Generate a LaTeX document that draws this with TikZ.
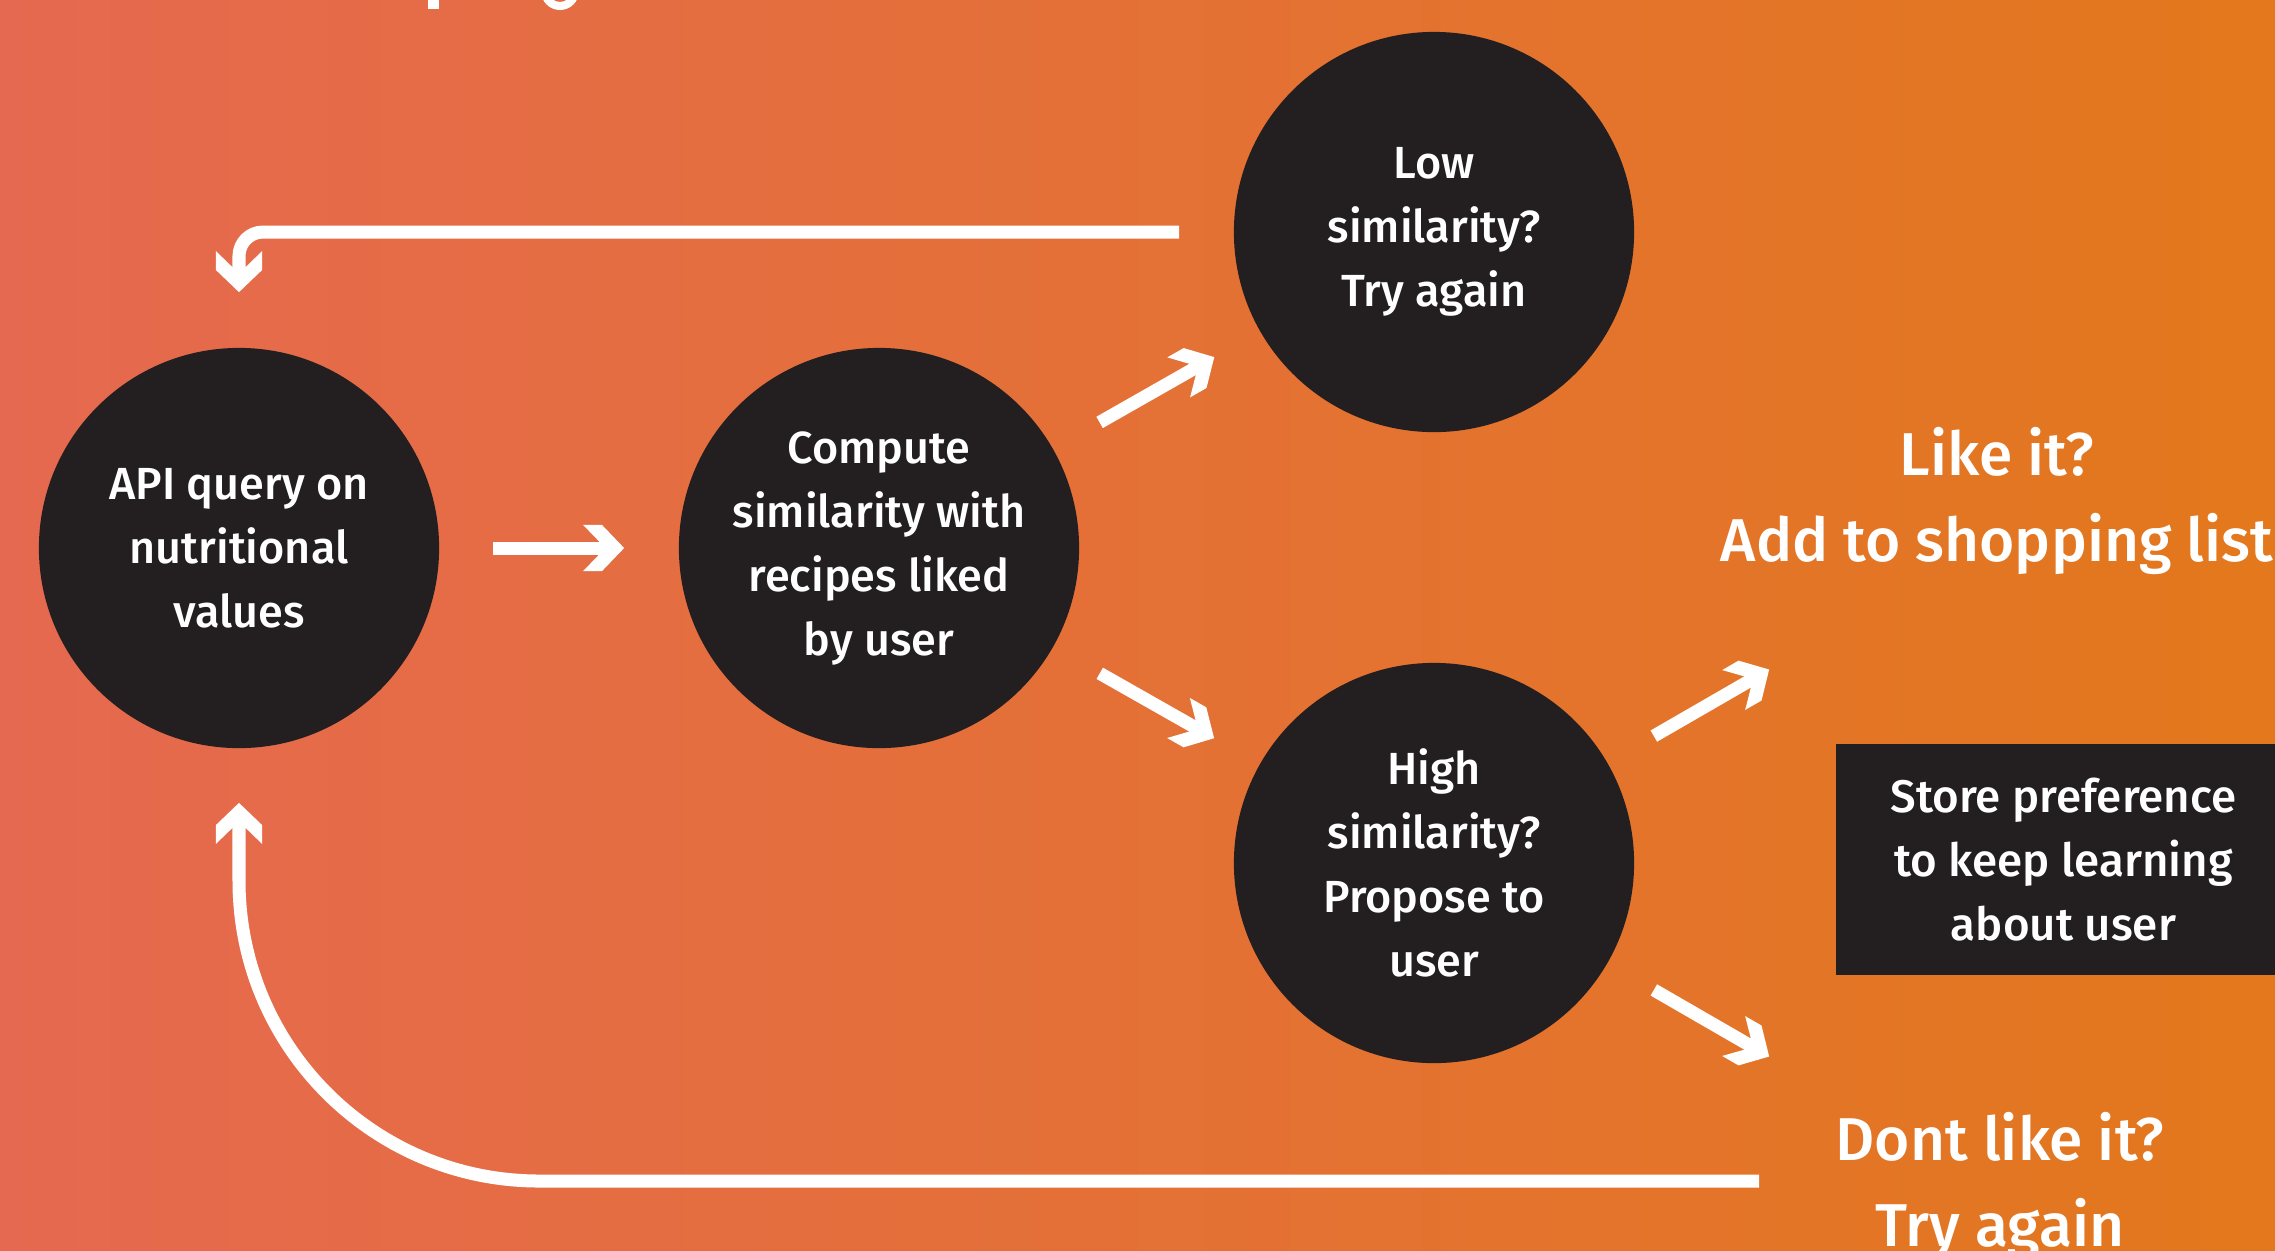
\documentclass[tikz,border=0pt]{standalone}
\usepackage{fontspec}
\IfFontExistsTF{Fira Sans Medium}{\setmainfont{Fira Sans Medium}}{\setmainfont{Fira Sans}}
\usetikzlibrary{calc}

\definecolor{bgL}{RGB}{229,105,80}
\definecolor{bgR}{RGB}{227,120,28}
\definecolor{ink}{HTML}{231F20}

% chevron arrow head: a filled V whose arms are as thick as the shaft
\newdimen\chevw
\pgfdeclarearrow{
  name = Chev,
  parameters = {\the\pgflinewidth},
  setup code = {
    \chevw=\pgflinewidth
    \pgfarrowssettipend{0pt}
    \pgfarrowssetlineend{-1.75\chevw}
    \pgfarrowssetbackend{-3.15\chevw}
    \pgfarrowssetvisualbackend{-3.15\chevw}
    \pgfarrowshullpoint{0pt}{0pt}
    \pgfarrowsupperhullpoint{-3.15\chevw}{1.77\chevw}
    \pgfarrowssavethe\chevw
  },
  drawing code = {
    \pgfpathmoveto{\pgfqpoint{0pt}{0pt}}
    \pgfpathlineto{\pgfqpoint{-1.70\chevw}{1.77\chevw}}
    \pgfpathlineto{\pgfqpoint{-3.15\chevw}{1.77\chevw}}
    \pgfpathlineto{\pgfqpoint{-1.92\chevw}{0.5\chevw}}
    \pgfpathlineto{\pgfqpoint{-1.92\chevw}{-0.5\chevw}}
    \pgfpathlineto{\pgfqpoint{-3.15\chevw}{-1.77\chevw}}
    \pgfpathlineto{\pgfqpoint{-1.70\chevw}{-1.77\chevw}}
    \pgfpathclose
    \pgfusepathqfill
  }
}

\tikzset{
  blob/.style={circle, fill=ink, minimum size=4cm, inner sep=0pt, text=white,
    align=center, font=\fontsize{12.8}{18.2}\selectfont},
  flow/.style={white, line width=0.13cm, -Chev},
  bigtext/.style={text=white, align=center, inner sep=0pt,
    font=\fontsize{17.2}{24.2}\selectfont},
  notebox/.style={rectangle, fill=ink, minimum width=4.55cm, minimum height=2.31cm,
    inner sep=0pt, text=white, align=center, font=\fontsize{13}{18.2}\selectfont}
}

\begin{document}
\begin{tikzpicture}[x=0.01cm, y=0.01cm]
  \useasboundingbox (0,0) rectangle (2275,-1250);
  \shade[left color=bgL, right color=bgR] (0,0) rectangle (2275,-1250);

  % lower edge of the heading that runs above the frame
  \begin{scope}
    \clip (0,0) rectangle (2275,-1250);
    \fill[white] (428,1) rectangle (439,-9);
    \fill[white, even odd rule] (560,9) circle[radius=0.19cm] (560,9) circle[radius=0.11cm];
  \end{scope}

  % steps
  \node[blob] (A) at (239,-548) {API query on\\nutritional\\values};
  \node[blob] (B) at (879,-548) {Compute\\similarity with\\recipes liked\\by user};
  \node[blob] (C) at (1434,-232) {Low\\similarity?\\Try again};
  \node[blob] (D) at (1434,-863) {High\\similarity?\\Propose to\\user};
  % the note box runs on past the right edge of the page
  \node[notebox] (store) at (2063.5,-859.5) {Store preference\\to keep learning\\about user};
  \node[bigtext] (like) at (1997,-501) {Like it?\\Add to shopping list};
  \node[bigtext] (dont) at (2000,-1186) {Dont like it?\\Try again};

  \coordinate (likeend) at ($(D)+(30:387)$);
  \coordinate (dontend) at ($(D)+(-30:387)$);
  \coordinate (back) at (1759,-1181);

  % connectors
  \draw[flow, shorten <=0.53cm, shorten >=0.54cm] (A) -- (B);
  \draw[flow, shorten <=0.53cm, shorten >=0.52cm] (B) -- (C);
  \draw[flow, shorten <=0.53cm, shorten >=0.52cm] (B) -- (D);
  \draw[flow, shorten <=0.53cm] (D) -- (likeend);
  \draw[flow, shorten <=0.53cm] (D) -- (dontend);
  \draw[flow, rounded corners=0.24cm] ([xshift=-0.54cm]C.west) -| ([yshift=0.55cm]A.north);
  \draw[flow, rounded corners=3cm] (back) -| ([yshift=-0.54cm]A.south);
\end{tikzpicture}
\end{document}
